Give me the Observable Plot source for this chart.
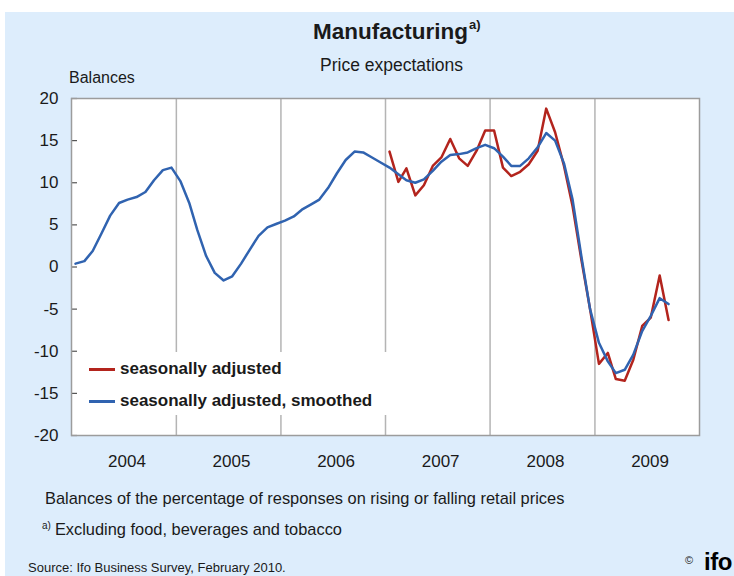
<!DOCTYPE html>
<html><head><meta charset="utf-8">
<script src="https://cdn.jsdelivr.net/npm/d3@7"></script>
<script src="https://cdn.jsdelivr.net/npm/@observablehq/plot@0.6"></script>
<style>
html,body{margin:0;padding:0;background:#fff;}
#page{position:relative;width:734px;height:576px;overflow:hidden;font-family:"Liberation Sans",Arial,sans-serif;color:#1a1a1a;}
#bg{position:absolute;left:5px;top:12px;right:0;bottom:0;background:#ddedfc;}
.t{position:absolute;white-space:nowrap;line-height:1;}
#chart{position:absolute;left:0;top:0;}
#legend{position:absolute;left:78px;top:352px;width:312px;height:63px;background:#fff;}
.sw{position:absolute;width:26px;height:2.5px;}
</style></head><body>
<div id="page">
  <div id="bg"></div>
  <div id="chart"></div>
  <div class="t" style="left:313px;top:21px;font-size:22.5px;font-weight:bold;">Manufacturing<span style="font-size:13px;position:relative;top:-10px;margin-left:1px;">a)</span></div>
  <div class="t" style="left:320px;top:56.5px;font-size:17.5px;">Price expectations</div>
  <div class="t" style="left:69px;top:69.5px;font-size:16px;">Balances</div>
  <div id="legend"></div>
  <div class="t" style="left:45px;top:490px;font-size:16.4px;">Balances of the percentage of responses on rising or falling retail prices</div>
  <div class="t" style="left:42px;top:521px;font-size:16.4px;"><span style="font-size:10px;position:relative;top:-6px;margin-right:4px;">a)</span>Excluding food, beverages and tobacco</div>
  <div class="t" style="left:28px;top:560.5px;font-size:13px;">Source: Ifo Business Survey, February 2010.</div>
  <div class="t" style="left:685px;top:555px;font-size:11px;">©</div>
  <div class="t" style="left:704px;top:550px;font-size:24px;font-weight:bold;color:#000;letter-spacing:-0.5px;">ifo</div>
</div>
<script>
// Monthly balances, seasonally adjusted & smoothed, Jan 2004 – Sep 2009
const smoothed = [
  0.4, 0.7, 1.9, 4.0, 6.1, 7.6, 8.0, 8.3, 8.9, 10.3, 11.5, 11.8,      // 2004
  10.2, 7.6, 4.4, 1.3, -0.7, -1.6, -1.1, 0.4, 2.1, 3.7, 4.7, 5.1,     // 2005
  5.5, 6.0, 6.8, 7.4, 8.0, 9.4, 11.1, 12.7, 13.7, 13.6, 13.0, 12.4,   // 2006
  11.8, 11.0, 10.3, 10.0, 10.4, 11.4, 12.5, 13.3, 13.4, 13.6, 14.1, 14.5, // 2007
  14.1, 13.1, 12.0, 12.0, 12.9, 14.2, 15.9, 15.0, 12.3, 8.0, 1.2, -5.0,   // 2008
  -9.0, -11.2, -12.6, -12.2, -10.4, -7.6, -5.8, -3.7, -4.4              // 2009
];
// Monthly balances, seasonally adjusted, Jan 2007 – Sep 2009
const adjusted = [
  13.7, 10.1, 11.7, 8.5, 9.7, 12.0, 13.0, 15.2, 12.9, 12.0, 13.8, 16.2,  // 2007
  16.2, 11.8, 10.8, 11.3, 12.2, 13.8, 18.8, 16.0, 12.0, 7.2, 0.8, -5.0,  // 2008
  -11.5, -10.2, -13.3, -13.5, -11.0, -7.0, -6.0, -1.0, -6.3             // 2009
];
const smoothedStart = [2004, 0];
const adjustedStart = [2007, 0];
const years = [2004, 2005, 2006, 2007, 2008, 2009];
const yTicks = [-20, -15, -10, -5, 0, 5, 10, 15, 20];
const seriesNames = ["seasonally adjusted", "seasonally adjusted, smoothed"];
const seriesColors = ["#b3241d", "#3063b0"];

const toRows = (vals, [y0, m0]) => vals.map((v, i) => ({date: new Date(Date.UTC(y0, m0 + i, 15)), value: v}));
const smoothedRows = toRows(smoothed, smoothedStart);
const adjustedRows = toRows(adjusted, adjustedStart);
const boundaries = years.slice(1).map(y => new Date(Date.UTC(y, 0, 1)));
const yearMids = years.map(y => new Date(Date.UTC(y, 6, 2)));
const xStart = new Date(Date.UTC(years[0], 0, 1));
const xEnd = new Date(Date.UTC(years[years.length - 1] + 1, 0, 1));
const tickEnd = new Date(Date.UTC(years[0], 0, 22)); // short inward tick length

const chart = Plot.plot({
  width: 734, height: 480,
  marginLeft: 71, marginRight: 35, marginTop: 98, marginBottom: 45,
  style: {background: "transparent", fontFamily: "Liberation Sans, Arial, sans-serif", fontSize: "17px", color: "#1a1a1a"},
  x: {type: "utc", domain: [xStart, xEnd]},
  y: {domain: [-20, 20]},
  marks: [
    Plot.frame({fill: "white", stroke: null}),
    Plot.ruleX(boundaries, {stroke: "#b4b4b4", strokeWidth: 1.5}),
    Plot.ruleY(yTicks, {y: d => d, x1: xStart, x2: tickEnd, stroke: "#555", strokeWidth: 1.2}),
    Plot.lineY(adjustedRows, {x: "date", y: "value", stroke: seriesColors[0], strokeWidth: 2.5}),
    Plot.lineY(smoothedRows, {x: "date", y: "value", stroke: seriesColors[1], strokeWidth: 2.5}),
    Plot.frame({stroke: "#9c9c9c", strokeWidth: 1.5}),
    Plot.axisY({ticks: yTicks, tickSize: 0, tickPadding: 13, label: null, fontSize: 17, tickFormat: d => String(d)}),
    Plot.axisX({ticks: yearMids, tickSize: 0, tickPadding: 19, tickFormat: d => String(d.getUTCFullYear()), label: null, dx: 3, fontSize: 17})
  ]
});
document.getElementById("chart").appendChild(chart);

const page = document.getElementById("page");
seriesNames.forEach((name, i) => {
  const sw = document.createElement("div");
  sw.className = "sw";
  sw.style.left = "89px";
  sw.style.top = (368 + i * 32) + "px";
  sw.style.background = seriesColors[i];
  page.appendChild(sw);
  const t = document.createElement("div");
  t.className = "t";
  t.style.left = "120px";
  t.style.top = (360 + i * 32) + "px";
  t.style.fontSize = "17px";
  t.style.fontWeight = "bold";
  t.textContent = name;
  page.appendChild(t);
});
</script>
</body></html>
